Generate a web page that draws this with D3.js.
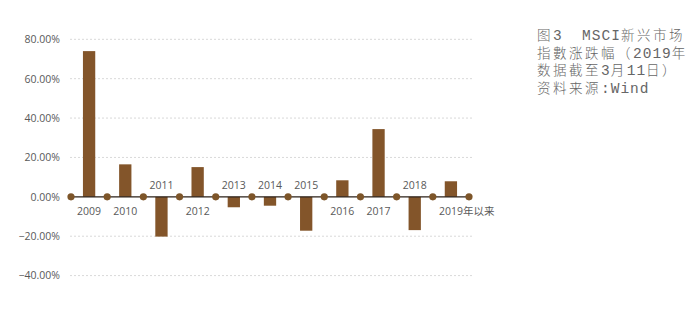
<!DOCTYPE html>
<html><head><meta charset="utf-8">
<script src="https://cdn.jsdelivr.net/npm/d3@7"></script>
<style>
html,body{margin:0;padding:0;background:#fff;}
svg{display:block;}
</style></head>
<body>
<svg id="chart" width="699" height="322"></svg>
<script>
const categories = ["2009","2010","2011","2012","2013","2014","2015","2016","2017","2018","2019年以来"];
const values = [74.0, 16.5, -20.2, 15.1, -5.3, -4.5, -17.2, 8.4, 34.4, -16.9, 7.9];
const yTicks = [-40, -20, 0, 20, 40, 60, 80];
const titleLines = ["图3  MSCI新兴市场", "指數涨跌幅（2019年", "数据截至3月11日）", "资料来源:Wind"];

const svg = d3.select("#chart");
const barColor = "#83552a";
const textColor = "#595959";

const x = d3.scaleBand().domain(categories).range([71, 469]).padding(0);
const y = d3.scaleLinear().domain([-40, 80]).range([275.6, 39.3]);

// gridlines
svg.append("g").selectAll("line").data(yTicks.filter(d => d !== 0)).join("line")
  .attr("x1", 70).attr("x2", 473)
  .attr("y1", d => y(d)).attr("y2", d => y(d))
  .attr("stroke", "#d9d9d9").attr("stroke-width", 1)
  .attr("stroke-dasharray", "2,2");

// y axis labels
const yAxis = d3.axisLeft(y).tickValues(yTicks).tickSize(0).tickPadding(0)
  .tickFormat(d => d3.format(".2f")(d) + "%");
const gy = svg.append("g").attr("transform", "translate(60,0)").call(yAxis);
gy.select(".domain").remove();
gy.selectAll("text").attr("fill", textColor).attr("font-family", "'Open Sans', sans-serif").attr("font-size", "10.5px");

// bars
const bw = x.bandwidth() * 0.34;
svg.append("g").selectAll("rect").data(values).join("rect")
  .attr("x", (d, i) => x(categories[i]) + x.bandwidth() / 2 - bw / 2)
  .attr("width", bw)
  .attr("y", d => y(Math.max(0, d)))
  .attr("height", d => Math.abs(y(d) - y(0)))
  .attr("fill", barColor);

// zero line
svg.append("line").attr("x1", x.range()[0]).attr("x2", x.range()[1])
  .attr("y1", y(0)).attr("y2", y(0)).attr("stroke", "#2b2118").attr("stroke-width", 1.2);

// dots at category boundaries
const bounds = categories.map(c => x(c)).concat([x.range()[1]]);
svg.append("g").selectAll("circle").data(bounds).join("circle")
  .attr("cx", d => d).attr("cy", y(0)).attr("r", 3.6).attr("fill", "#7d5529");

// category labels
svg.append("g").selectAll("text").data(categories).join("text")
  .attr("x", (c, i) => i === categories.length - 1 ? x(c) + x.bandwidth() / 2 - 12 : x(c) + x.bandwidth() / 2)
  .attr("y", (c, i) => values[i] >= 0 ? y(0) + 18 : y(0) - 8)
  .attr("text-anchor", (c, i) => i === categories.length - 1 ? "start" : "middle")
  .attr("fill", textColor)
  .attr("font-family", "'Open Sans', 'Noto Sans CJK SC', sans-serif")
  .attr("font-size", "10.5px")
  .text(c => c);

// title block: Latin runs in monospace, CJK runs spaced
const tl = svg.append("g").selectAll("text").data(titleLines).join("text")
  .attr("x", 537).attr("y", (d, i) => 40 + i * 17.7)
  .attr("fill", "#666666")
  .attr("font-weight", 300)
  .style("white-space", "pre");
tl.each(function(line) {
  const runs = line.match(/[\x00-\x7F]+|[^\x00-\x7F]+/g);
  d3.select(this).selectAll("tspan").data(runs).join("tspan")
    .attr("font-family", r => /[\x00-\x7F]/.test(r[0]) ? "'Liberation Mono', monospace" : "'Noto Sans CJK SC', sans-serif")
    .attr("font-size", r => /[\x00-\x7F]/.test(r[0]) ? "14.5px" : "13.5px")
    .attr("letter-spacing", r => /[\x00-\x7F]/.test(r[0]) ? "1px" : "2.5px")
    .text(r => r);
});
</script>
</body></html>
